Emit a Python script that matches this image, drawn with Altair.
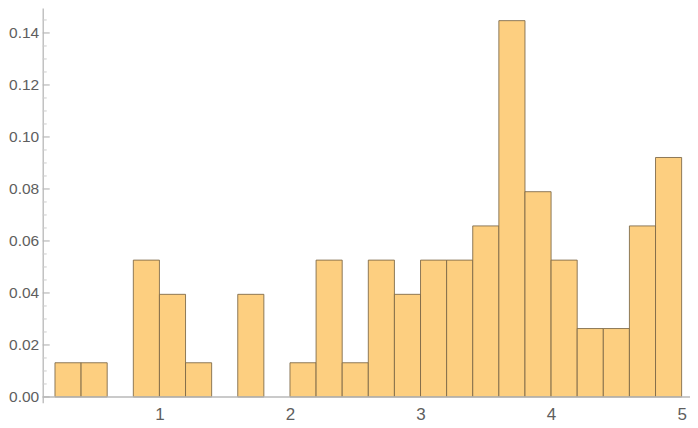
import altair as alt
import pandas as pd

# Histogram data: bin edges (width 0.2) and probabilities (count / 76)
bin_start = [0.2, 0.4, 0.6, 0.8, 1.0, 1.2, 1.4, 1.6, 1.8, 2.0, 2.2, 2.4,
             2.6, 2.8, 3.0, 3.2, 3.4, 3.6, 3.8, 4.0, 4.2, 4.4, 4.6, 4.8]
bin_end = [round(b + 0.2, 1) for b in bin_start]
counts = [1, 1, 0, 4, 3, 1, 0, 3, 0, 1, 4, 1,
          4, 3, 4, 4, 5, 11, 6, 4, 2, 2, 5, 7]
total = 76
prob = [c / total for c in counts]

x_ticks = [1, 2, 3, 4, 5]
y_major = [0.0, 0.02, 0.04, 0.06, 0.08, 0.10, 0.12, 0.14]
y_minor = [0.005, 0.01, 0.015, 0.025, 0.03, 0.035, 0.045, 0.05, 0.055,
           0.065, 0.07, 0.075, 0.085, 0.09, 0.095, 0.105, 0.11, 0.115,
           0.125, 0.13, 0.135, 0.145]

X_DOMAIN = [0.106, 5.064]
Y_DOMAIN = [-0.0022, 0.1496]
FONT = "Liberation Sans"
LABEL_COLOR = "#5e5e5e"
AXIS_COLOR = "#b8b8b8"

bars_df = pd.DataFrame({"start": bin_start, "end": bin_end, "p": prob})
bars_df = bars_df[bars_df["p"] > 0]
major_df = pd.DataFrame({"v": y_major})
minor_df = pd.DataFrame({"v": y_minor})

xscale = alt.Scale(domain=X_DOMAIN, nice=False, zero=False)
yscale = alt.Scale(domain=Y_DOMAIN, nice=False, zero=False)

bars = alt.Chart(bars_df).mark_rect(
    fill="#FDCF80", stroke="#7a6645", strokeWidth=1, strokeOpacity=0.85
).encode(
    x=alt.X("start:Q", scale=xscale,
            axis=alt.Axis(values=x_ticks, format="d", title=None, grid=False,
                          domain=False, ticks=False, labelPadding=4,
                          labelFlush=False,
                          labelFont=FONT, labelFontSize=17,
                          labelColor=LABEL_COLOR)),
    x2="end:Q",
    y=alt.Y("zero:Q", scale=yscale,
            axis=alt.Axis(values=y_major, format=".2f", title=None, grid=False,
                          domain=True, domainColor=AXIS_COLOR, domainWidth=1.3,
                          ticks=False, labelPadding=4,
                          labelFont=FONT, labelFontSize=15.5,
                          labelColor=LABEL_COLOR)),
    y2="p:Q",
).transform_calculate(zero="0")

xaxis_line = alt.Chart(pd.DataFrame({"y0": [0.0]})).mark_rule(
    color=AXIS_COLOR, strokeWidth=1.5
).encode(y=alt.Y("y0:Q", scale=yscale))

major_ticks = alt.Chart(major_df).mark_rule(
    color=AXIS_COLOR, strokeWidth=1.2
).encode(
    y=alt.Y("v:Q", scale=yscale),
    x=alt.value(0), x2=alt.value(7),
)

minor_ticks = alt.Chart(minor_df).mark_rule(
    color="#cccccc", strokeWidth=1
).encode(
    y=alt.Y("v:Q", scale=yscale),
    x=alt.value(0), x2=alt.value(4),
)

chart = alt.layer(bars, xaxis_line, major_ticks, minor_ticks).properties(
    width=647.3, height=394.7,
    background="white",
    autosize=alt.AutoSizeParams(type="none"),
    padding={"left": 34.7, "top": 0, "right": 0, "bottom": 22},
).configure_view(stroke=None, strokeWidth=0)

chart.save("out.html", embed_options={"renderer": "svg", "actions": False})
